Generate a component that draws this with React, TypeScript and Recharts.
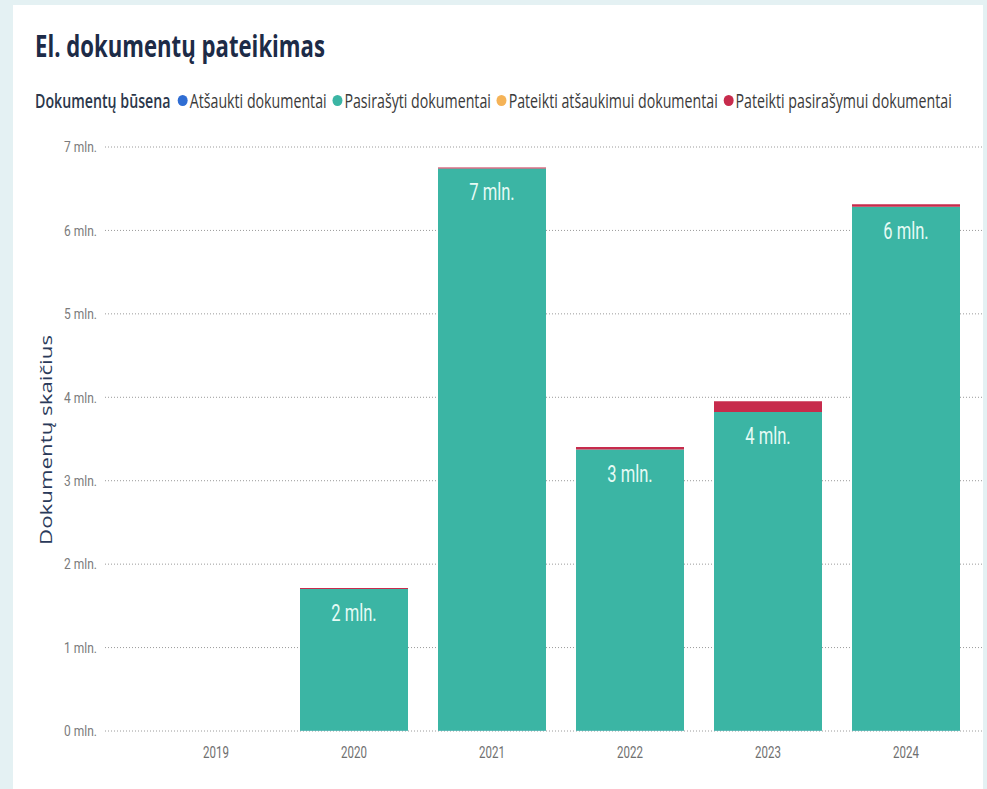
import { BarChart, Bar, XAxis, YAxis, CartesianGrid, LabelList } from "recharts";

// values in millions of documents
const years = ["2019", "2020", "2021", "2022", "2023", "2024"];
const atsaukti = [0, 0.003, 0.003, 0.003, 0.003, 0.003];
const pasirasyti = [0, 1.7, 6.74, 3.37, 3.82, 6.28];
const atsaukimui = [0, 0, 0, 0, 0, 0];
const pasirasymui = [0, 0.01, 0.01, 0.03, 0.13, 0.03];
const yTicks = [0, 1, 2, 3, 4, 5, 6, 7];

const series = [
  { key: "atsaukti", name: "Atšaukti dokumentai", color: "#2f6dd3" },
  { key: "pasirasyti", name: "Pasirašyti dokumentai", color: "#3bb5a4" },
  { key: "atsaukimui", name: "Pateikti atšaukimui dokumentai", color: "#f5b357" },
  { key: "pasirasymui", name: "Pateikti pasirašymui dokumentai", color: "#c72b4c" },
];

const data = years.map((year, i) => ({
  year,
  atsaukti: atsaukti[i],
  pasirasyti: pasirasyti[i],
  atsaukimui: atsaukimui[i],
  pasirasymui: pasirasymui[i],
}));

const W = 987;
const H = 789;
const SQUEEZE = 0.72;

const YTick = ({ x, y, payload }: any) => (
  <text
    transform={`translate(${x},${y}) scale(0.8,1)`}
    textAnchor="end"
    dy="0.35em"
    fontSize={15}
    fill="#7b7b7b"
    fontFamily="Roboto"
  >
    {payload.value} mln.
  </text>
);

const XTick = ({ x, y, payload }: any) => (
  <text
    transform={`translate(${x},${y}) scale(${SQUEEZE},1)`}
    textAnchor="middle"
    dy="0.71em"
    fontSize={16}
    fill="#6f6f6f"
    fontFamily="Roboto"
  >
    {payload.value}
  </text>
);

const ValueLabel = ({ x, y, width, value }: any) => {
  if (!value) return null;
  return (
    <text
      transform={`translate(${x + width / 2},${y + 32}) scale(${SQUEEZE},1)`}
      textAnchor="middle"
      fontSize={23}
      fill="#e6fbf5"
      fontFamily="Roboto"
    >
      {Math.round(value)} mln.
    </text>
  );
};

const LegendRow = () => (
  <div
    style={{
      position: "absolute",
      left: 35,
      top: 87,
      display: "flex",
      alignItems: "center",
      whiteSpace: "nowrap",
      fontFamily: "'Open Sans', sans-serif",
      fontSize: 20,
      color: "#3a3a3a",
      transform: "scaleX(0.71)",
      transformOrigin: "left center",
    }}
  >
    <span style={{ fontWeight: 600, color: "#2b374b", marginRight: 10 }}>Dokumentų būsena</span>
    {series.map((s) => (
      <span key={s.key} style={{ display: "flex", alignItems: "center", marginRight: 8 }}>
        <span
          style={{
            width: 14,
            height: 11,
            borderRadius: "50%",
            background: s.color,
            marginRight: 3,
            display: "inline-block",
          }}
        />
        {s.name}
      </span>
    ))}
  </div>
);

export default function App() {
  return (
    <div style={{ position: "absolute", top: 0, left: 0, width: W, height: H, background: "#e4f1f3", overflow: "hidden" }}>
      <div style={{ position: "absolute", left: 13, top: 5, width: 970, height: H, background: "#ffffff" }} />
      <div style={{ position: "absolute", left: 0, top: 0 }}>
        <BarChart
          width={W}
          height={H}
          data={data}
          margin={{ top: 147, right: 4, left: 45, bottom: 28 }}
          barCategoryGap={15}
        >
          <CartesianGrid vertical={false} stroke="#9a9a9a" strokeDasharray="1 2" />
          <XAxis
            dataKey="year"
            axisLine={false}
            tickLine={false}
            tickMargin={10}
            height={30}
            padding={{ left: 42, right: 8 }}
            tick={<XTick />}
          />
          <YAxis
            width={60}
            domain={[0, 7]}
            ticks={yTicks}
            axisLine={false}
            tickLine={false}
            tick={<YTick />}
          />
          {series.map((s) => (
            <Bar key={s.key} dataKey={s.key} name={s.name} stackId="docs" fill={s.color} isAnimationActive={false}>
              {s.key === "pasirasyti" && <LabelList dataKey="pasirasyti" content={<ValueLabel />} />}
            </Bar>
          ))}
        </BarChart>
      </div>
      <LegendRow />
      <svg width={W} height={H} style={{ position: "absolute", left: 0, top: 0, pointerEvents: "none" }}>
        <text
          x={35}
          y={57}
          fontSize={31}
          fontWeight={700}
          fill="#1d2b47"
          fontFamily="'Open Sans', sans-serif"
          textLength={290}
          lengthAdjust="spacingAndGlyphs"
        >
          El. dokumentų pateikimas
        </text>
        <text
          transform="translate(52,440) rotate(-90)"
          textAnchor="middle"
          fontSize={17}
          fill="#2a3a5a"
          fontFamily="'Open Sans', sans-serif"
          textLength={210}
          lengthAdjust="spacingAndGlyphs"
        >
          Dokumentų skaičius
        </text>
      </svg>
    </div>
  );
}
